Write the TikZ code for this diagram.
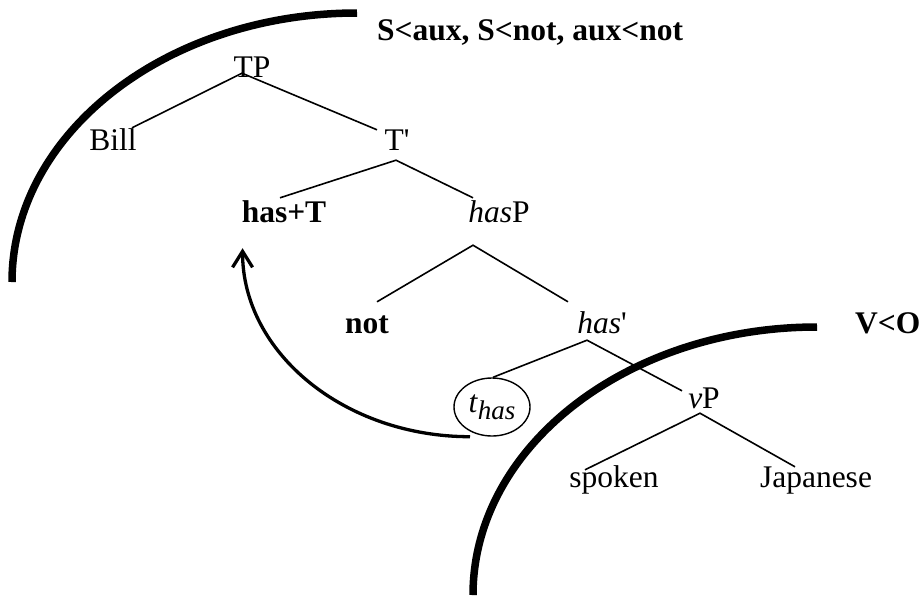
\documentclass[tikz,border=0pt]{standalone}
\usepackage{fontspec}
\setmainfont{Liberation Serif}
\usetikzlibrary{arrows.meta,shapes}
\newcommand{\trsub}[1]{\raisebox{-7pt}{\fontsize{27}{30}\selectfont\itshape #1}}

\begin{document}
\begin{tikzpicture}[x=1pt,y=-1pt,
  word/.style={inner sep=0pt, anchor=base, text height=22pt, text depth=0pt,
    font=\fontsize{31.5}{36}\selectfont},
  lin/.style={inner sep=0pt, anchor=base west, font=\fontsize{31.5}{36}\selectfont\bfseries},
  branch/.style={line width=1.6pt},
  spellout/.style={line width=7.5pt}]
\useasboundingbox (0,0) rectangle (924,598);
\node[lin] (ord1) at (377,40) {S<aux, S<not, aux<not};
\node[lin] (ord2) at (855,333) {V<O};
\node[word] (tp) at (252,77) {TP};
\node[word] (bill) at (113,150) {Bill};
\node[word] (tbar) at (397,150) {T\textquotesingle};
\node[word] (hast) at (284,222) {\textbf{has+T}};
\node[word] (hasp) at (499,222) {\textit{has}P};
\node[word] (neg) at (367,333) {\textbf{not}};
\node[word] (hasbar) at (602,333) {\textit{has}\textquotesingle};
\node[draw, ellipse, line width=1.4pt, inner sep=0pt, minimum width=76pt, minimum height=58pt,
  font=\fontsize{31.5}{36}\selectfont] (thas) at (492,407) {\textit{t}\trsub{has}};
\node[word] (vp) at (704,408) {\textit{v}P};
\node[word] (spoken) at (614,487) {spoken};
\node[word] (jap) at (816,487) {Japanese};
\draw[branch] ([shift={(19,0)}]bill.north) -- ([shift={(-10,-4)}]tp.south) -- ([shift={(-20,2)}]tbar.north);
\draw[branch] ([shift={(-4,-2)}]hast.north) -- ([shift={(-1,10)}]tbar.south) -- ([shift={(-26,-2)}]hasp.north);
\draw[branch] ([shift={(10,-9)}]neg.north) -- ([shift={(-26,23)}]hasp.south) -- ([shift={(-34,-9)}]hasbar.north);
\draw[branch] ([shift={(1,0)}]thas.north) -- ([shift={(-15,7)}]hasbar.south) -- ([shift={(-22,5)}]vp.north);
\draw[branch] ([shift={(-29,5)}]spoken.north) -- ([shift={(-4,5)}]vp.south) -- ([shift={(-21,2)}]jap.north);
\draw[spellout] (357,13) arc[start angle=90, end angle=180, x radius=345pt, y radius=269pt];
\draw[spellout] (817,327) arc[start angle=90, end angle=180, x radius=344pt, y radius=268pt];
\draw[line width=3.3pt, -{Straight Barb[length=16pt, width=20pt]}]
  ([xshift=-22pt]thas.south) .. controls +(-125,0) and +(0,105) .. ([shift={(1,26)}]hast.south west);
\end{tikzpicture}
\end{document}
